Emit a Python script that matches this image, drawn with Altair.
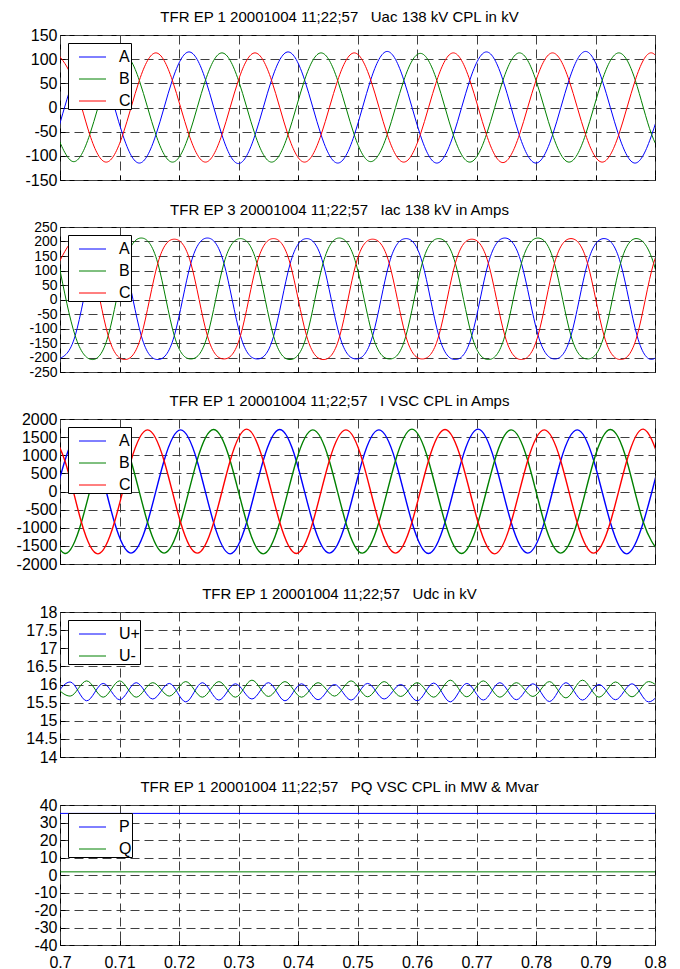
import altair as alt
import pandas as pd

FONT = "Liberation Sans"
BLUE, GREEN, RED = "#0000ff", "#008000", "#ff0000"

X_DOMAIN = [0.7, 0.8]
X_TICKS = [0.70, 0.71, 0.72, 0.73, 0.74, 0.75, 0.76, 0.77, 0.78, 0.79, 0.80]

TITLES = [
    "TFR EP 1 20001004 11;22;57\u00a0\u00a0\u00a0Uac 138 kV CPL in kV",
    "TFR EP 3 20001004 11;22;57\u00a0\u00a0\u00a0Iac 138 kV in Amps",
    "TFR EP 1 20001004 11;22;57\u00a0\u00a0\u00a0I VSC CPL in Amps",
    "TFR EP 1 20001004 11;22;57\u00a0\u00a0\u00a0Udc in kV",
    "TFR EP 1 20001004 11;22;57\u00a0\u00a0\u00a0PQ VSC CPL in MW & Mvar",
]

# ---------------- Panel 1: Uac (kV) ----------------
T_UAC = [0.69944, 0.70222, 0.70500, 0.70778, 0.71056, 0.71333, 0.71611, 0.71889,
         0.72167, 0.72444, 0.72722, 0.73000, 0.73278, 0.73556, 0.73833, 0.74111,
         0.74389, 0.74667, 0.74944, 0.75222, 0.75500, 0.75778, 0.76056, 0.76333,
         0.76611, 0.76889, 0.77167, 0.77444, 0.77722, 0.78000, 0.78278, 0.78556,
         0.78833, 0.79111, 0.79389, 0.79667, 0.79944, 0.80222]
UAC_A = [-57, 57, 115, 57, -57, -115, -57, 57, 115, 58, -57, -116, -57, 57, 115, 57,
         -57, -115, -58, 57, 116, 57, -57, -115, -57, 57, 115, 57, -58, -115, -57, 57,
         116, 57, -57, -115, -57, 57]
UAC_B = [-56, -112, -56, 56, 112, 56, -56, -113, -57, 56, 113, 56, -56, -113, -56, 57,
         113, 56, -56, -112, -56, 56, 112, 56, -57, -113, -56, 56, 113, 56, -56, -113,
         -56, 56, 113, 57, -56, -113]
UAC_C = [113, 56, -56, -113, -56, 56, 113, 56, -56, -113, -56, 57, 113, 56, -57, -113,
         -56, 56, 113, 57, -56, -113, -56, 56, 113, 56, -56, -114, -56, 56, 113, 56,
         -56, -113, -57, 56, 113, 56]
UAC_TICKS = [-150, -100, -50, 0, 50, 100, 150]

# ---------------- Panel 2: Iac (A) ----------------
T_IAC = [0.69977, 0.70255, 0.70533, 0.70810, 0.71088, 0.71366, 0.71644, 0.71921,
         0.72199, 0.72477, 0.72755, 0.73033, 0.73310, 0.73588, 0.73866, 0.74144,
         0.74421, 0.74699, 0.74977, 0.75255, 0.75533, 0.75810, 0.76088, 0.76366,
         0.76644, 0.76921, 0.77199, 0.77477, 0.77755, 0.78033, 0.78310, 0.78588,
         0.78866, 0.79144, 0.79421, 0.79699, 0.79977, 0.80255]
IAC_A = [-205, -125, 125, 210, 125, -125, -207, -125, 125, 212, 125, -125,
         -205, -128, 122, 210, 125, -125, -205, -125, 125, 210, 128, -125,
         -207, -125, 125, 212, 125, -122, -205, -125, 125, 210, 125, -125,
         -205, -125]
IAC_B = [125, -125, -207, -125, 125, 212, 125, -125, -205, -125, 125, 210,
         125, -125, -207, -125, 125, 212, 122, -125, -205, -128, 125, 210,
         125, -125, -207, -125, 125, 212, 125, -125, -205, -125, 125, 210,
         125, -125]
IAC_C = [125, 208, 125, -125, -207, -125, 125, 208, 125, -125, -205, -125,
         125, 210, 125, -125, -207, -128, 125, 208, 125, -125, -205, -125,
         125, 208, 125, -125, -207, -125, 125, 210, 125, -125, -207, -125,
         125, 208]
IAC_TICKS = [-250, -200, -150, -100, -50, 0, 50, 100, 150, 200, 250]

# ---------------- Panel 3: I VSC (A) ----------------
T_IVSC = [0.69804, 0.70082, 0.70360, 0.70638, 0.70915, 0.71193, 0.71471, 0.71749,
          0.72026, 0.72304, 0.72582, 0.72860, 0.73138, 0.73415, 0.73693, 0.73971,
          0.74249, 0.74526, 0.74804, 0.75082, 0.75360, 0.75638, 0.75915, 0.76193,
          0.76471, 0.76749, 0.77026, 0.77304, 0.77582, 0.77860, 0.78138, 0.78415,
          0.78693, 0.78971, 0.79249, 0.79526, 0.79804, 0.80082]
IVSC_A = [-850, 850, 1720, 860, -850, -1700, -850, 850, 1700, 850, -860, -1720,
          -850, 850, 1710, 850, -850, -1700, -850, 860, 1700, 850, -850, -1710,
          -850, 850, 1720, 850, -850, -1700, -860, 850, 1700, 850, -850, -1720,
          -850, 850]
IVSC_B = [-850, -1710, -850, 850, 1720, 850, -850, -1700, -850, 860, 1710, 850,
          -850, -1720, -850, 850, 1700, 850, -860, -1700, -850, 850, 1720, 850,
          -850, -1710, -850, 850, 1700, 860, -850, -1700, -850, 850, 1710, 850,
          -850, -1700]
IVSC_C = [1710, 850, -850, -1720, -850, 850, 1700, 850, -850, -1700, -860, 850,
          1720, 850, -850, -1710, -850, 850, 1700, 860, -850, -1700, -850, 850,
          1710, 850, -850, -1720, -850, 850, 1700, 850, -860, -1700, -850, 850,
          1720, 850]
IVSC_TICKS = [-2000, -1500, -1000, -500, 0, 500, 1000, 1500, 2000]

# ---------------- Panel 4: Udc (kV) ----------------
T_UDC = [0.69892, 0.70170, 0.70448, 0.70726, 0.71003, 0.71281, 0.71559, 0.71837,
         0.72114, 0.72392, 0.72670, 0.72948, 0.73226, 0.73503, 0.73781, 0.74059,
         0.74337, 0.74614, 0.74892, 0.75170, 0.75448, 0.75726, 0.76003, 0.76281,
         0.76559, 0.76837, 0.77114, 0.77392, 0.77670, 0.77948, 0.78226, 0.78503,
         0.78781, 0.79059, 0.79337, 0.79614, 0.79892, 0.80170]
UDC_POS = [15.60, 16.07, 15.55, 16.03, 15.58, 16.05, 15.60, 16.03, 15.52, 16.05,
           15.57, 16.02, 15.60, 16.05, 15.55, 16.02, 15.58, 16.00, 15.57, 16.03,
           15.60, 16.00, 15.55, 16.04, 15.52, 16.03, 15.57, 16.05, 15.58, 16.02,
           15.53, 16.05, 15.57, 16.00, 15.58, 16.02, 15.52, 16.00]
UDC_NEG = [16.00, 15.68, 16.10, 15.65, 16.10, 15.65, 16.05, 15.68, 16.08, 15.65,
           16.08, 15.65, 16.12, 15.67, 16.08, 15.65, 16.05, 15.68, 16.10, 15.66,
           16.08, 15.67, 16.05, 15.65, 16.12, 15.66, 16.10, 15.65, 16.05, 15.67,
           16.08, 15.63, 16.12, 15.65, 16.07, 15.66, 16.08, 15.70]
UDC_TICKS = [14, 14.5, 15, 15.5, 16, 16.5, 17, 17.5, 18]

# ---------------- Panel 5: P, Q ----------------
T_PQ = [0.7, 0.8]
PQ_P = [35.2, 35.2]
PQ_Q = [1.8, 1.8]
PQ_TICKS = [-40, -30, -20, -10, 0, 10, 20, 30, 40]


def make_df(names, times, values):
    rows = []
    for name, t, vals in zip(names, times, values):
        for ti, v in zip(t, vals):
            rows.append({"t": ti, "v": v, "s": name})
    return pd.DataFrame(rows)


def panel(df, title, names, colors, ydomain, yticks, show_x_labels, interp, sw,
          ylab=16, h=145):
    x_axis = alt.Axis(
        values=X_TICKS, title=None, labels=show_x_labels, format=".2~f",
        ticks=True, tickSize=5, offset=-5, domain=False, grid=True,
        labelFontSize=16, labelPadding=9, labelFlush=False,
    )
    y_axis = alt.Axis(
        values=yticks, title=None, labelExpr="toString(datum.value)",
        ticks=True, tickSize=5, offset=-5, domain=False, grid=True,
        labelFontSize=ylab, labelPadding=3,
    )
    legend = alt.Legend(
        title=None, orient="none", legendX=8, legendY=8,
        symbolType="stroke", symbolSize=729, symbolStrokeWidth=1, symbolOffset=10.5,
        labelFontSize=16, labelFont=FONT, labelColor="black", labelOffset=12.5,
        padding=0, rowPadding=-10.5, strokeColor="black", fillColor="white",
        labelExpr="datum.label + '\u00a0\u00a0\u00a0'",
    )
    return (
        alt.Chart(df)
        .mark_line(interpolate=interp, strokeWidth=sw, clip=True)
        .encode(
            x=alt.X("t:Q", scale=alt.Scale(domain=X_DOMAIN, nice=False, zero=False), axis=x_axis),
            y=alt.Y("v:Q", scale=alt.Scale(domain=ydomain, nice=False, zero=False), axis=y_axis),
            color=alt.Color("s:N", scale=alt.Scale(domain=names, range=colors), legend=legend),
        )
        .properties(
            width=595, height=h,
            title=alt.TitleParams(text=title, fontSize=15, font=FONT, fontWeight="normal",
                                  anchor="middle", offset=2, dx=-18, color="black"),
        )
    )


ABC = ["A", "B", "C"]
RGB = [BLUE, GREEN, RED]

p1 = panel(make_df(ABC, [T_UAC] * 3, [UAC_A, UAC_B, UAC_C]), TITLES[0], ABC, RGB,
           [-150, 150], UAC_TICKS, False, "natural", 1)
p2 = panel(make_df(ABC, [T_IAC] * 3, [IAC_A, IAC_B, IAC_C]), TITLES[1], ABC, RGB,
           [-250, 250], IAC_TICKS, False, "natural", 1, ylab=14)
p3 = panel(make_df(ABC, [T_IVSC] * 3, [IVSC_A, IVSC_B, IVSC_C]), TITLES[2], ABC, RGB,
           [-2000, 2000], IVSC_TICKS, False, "natural", 1.4)
p4 = panel(make_df(["U+", "U-"], [T_UDC] * 2, [UDC_POS, UDC_NEG]), TITLES[3], ["U+", "U-"],
           [BLUE, GREEN], [14, 18], UDC_TICKS, False, "monotone", 1)
p5 = panel(make_df(["P", "Q"], [T_PQ] * 2, [PQ_P, PQ_Q]), TITLES[4], ["P", "Q"],
           [BLUE, GREEN], [-40, 40], PQ_TICKS, True, "linear", 1, h=140)

chart = (
    alt.vconcat(p1, p2, p3, p4, p5, spacing=13)
    .resolve_scale(color="independent")
    .resolve_legend(color="independent")
    .properties(padding={"left": 7, "top": 1, "right": 5, "bottom": 0}, background="white")
    .configure_view(stroke="black", strokeWidth=1)
    .configure_axis(labelFont=FONT, labelColor="black", tickColor="black",
                    gridColor="#404040", gridDash=[9, 5], gridOpacity=1, gridWidth=1)
)

chart.save("out.html", embed_options={"renderer": "svg", "actions": False})
